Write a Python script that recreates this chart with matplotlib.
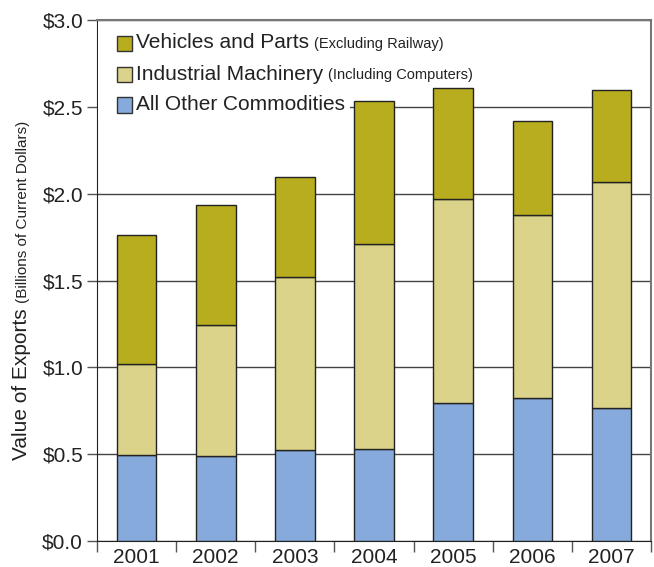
import matplotlib
matplotlib.use("Agg")
import matplotlib.pyplot as plt
from matplotlib.patches import Rectangle
import numpy as np

plt.rcParams['font.family'] = ['Liberation Sans', 'DejaVu Sans']

years = ['2001', '2002', '2003', '2004', '2005', '2006', '2007']
other = [0.495, 0.489, 0.524, 0.530, 0.794, 0.823, 0.766]
machinery = [0.524, 0.754, 0.996, 1.180, 1.175, 1.054, 1.301]
vehicles = [0.743, 0.691, 0.576, 0.823, 0.639, 0.541, 0.529]
yticks = [0.0, 0.5, 1.0, 1.5, 2.0, 2.5, 3.0]
ytick_labels = ['$0.0', '$0.5', '$1.0', '$1.5', '$2.0', '$2.5', '$3.0']

c_other = '#86AADB'
c_mach = '#DBD38A'
c_veh = '#B8AD1E'

W, H = 654, 567
fig = plt.figure(figsize=(W / 100, H / 100), dpi=100)
ax = fig.add_axes([97 / W, (H - 541) / H, (651 - 97) / W, (541 - 20) / H])

x = np.arange(len(years))
bw = 0.5
ec = '#222222'
ax.bar(x, other, bw, color=c_other, edgecolor=ec, linewidth=1, zorder=3)
ax.bar(x, machinery, bw, bottom=other, color=c_mach, edgecolor=ec, linewidth=1, zorder=3)
bot2 = np.array(other) + np.array(machinery)
ax.bar(x, vehicles, bw, bottom=bot2, color=c_veh, edgecolor=ec, linewidth=1, zorder=3)

ax.set_xlim(-0.5, len(years) - 0.5)
ax.set_ylim(0, 3.0)
ax.set_yticks(yticks)
ax.set_yticklabels(ytick_labels, fontsize=15, color='#222222')
ax.yaxis.grid(True, color='#444444', linewidth=1, zorder=1)
ax.set_axisbelow(True)
ax.tick_params(axis='y', direction='out', length=7, width=1, color='#555555', pad=3)

ax.set_xticks(x)
ax.set_xticklabels(years, fontsize=15, color='#222222')
ax.set_xticks(np.arange(-0.5, len(years)), minor=True)
ax.tick_params(axis='x', which='major', length=0, pad=5)
ax.tick_params(axis='x', which='minor', direction='out', length=8, width=1, color='#555555')

ax.spines['left'].set_color('#222222')
ax.spines['bottom'].set_color('#222222')
ax.spines['top'].set_color('#777777')
ax.spines['right'].set_color('#777777')
ax.spines['top'].set_linewidth(1.5)
ax.spines['right'].set_linewidth(1.5)

def fx(px):
    return px / W

def fy(py):
    return (H - py) / H

# white box behind legend
ax.add_patch(Rectangle((fx(98), fy(120)), fx(350) - fx(98), fy(22) - fy(120),
                       transform=fig.transFigure, facecolor='white', edgecolor='none', zorder=4))

entries = [
    (c_veh, 'Vehicles and Parts', '(Excluding Railway)', 43),
    (c_mach, 'Industrial Machinery', '(Including Computers)', 74),
    (c_other, 'All Other Commodities', '', 105),
]
fig.canvas.draw()
renderer = fig.canvas.get_renderer()
for col, main, small, cy in entries:
    sq = 15
    fig.patches.append(Rectangle((fx(117), fy(cy + sq / 2)), sq / W, sq / H,
                                 transform=fig.transFigure, facecolor=col,
                                 edgecolor='#333333', linewidth=1, zorder=5))
    t = fig.text(fx(136), fy(cy), main, fontsize=15, color='#222222',
                 ha='left', va='center', zorder=6)
    if small:
        bb = t.get_window_extent(renderer)
        fig.text(bb.x1 / W + 5 / W, fy(cy + 1), small, fontsize=10.5, color='#222222',
                 ha='left', va='center', zorder=6)

# y label
yl = fig.text(fx(22), fy(460), 'Value of Exports', fontsize=15, color='#222222',
              rotation=90, rotation_mode='anchor', ha='left', va='center')
bb = yl.get_window_extent(renderer)
fig.text(fx(23), bb.y1 / H + 5 / H, '(Billions of Current Dollars)', fontsize=11,
         color='#222222', rotation=90, rotation_mode='anchor', ha='left', va='center')

fig.savefig('out.png', dpi=100)
